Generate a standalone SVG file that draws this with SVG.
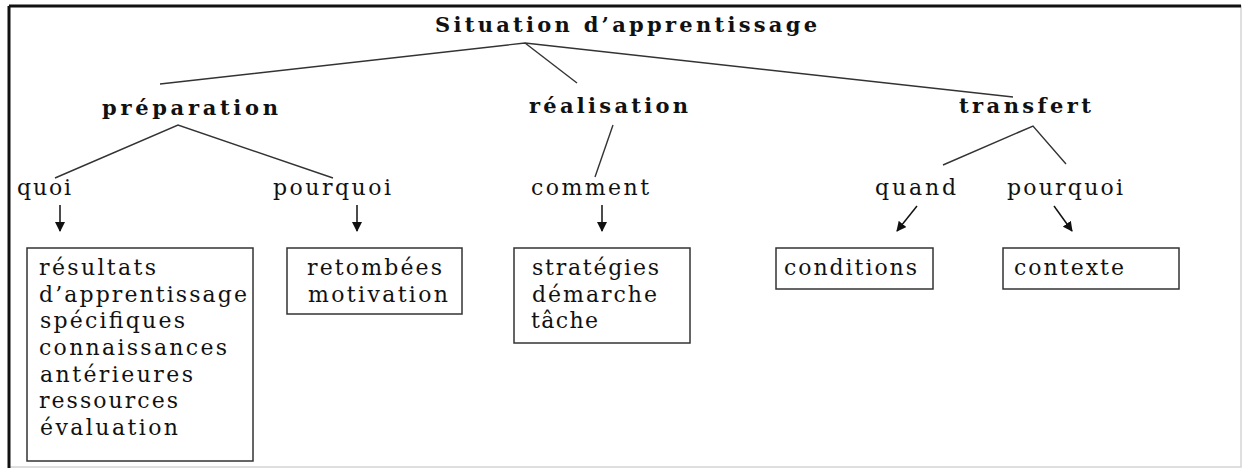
<svg xmlns="http://www.w3.org/2000/svg" width="1242" height="468" viewBox="0 0 1242 468">
<style>
.h{font-family:"DejaVu Serif","Liberation Serif",serif;font-weight:bold;font-size:21px;fill:#111}
.t{font-family:"DejaVu Serif","Liberation Serif",serif;font-size:22px;fill:#111}
.ln{stroke:#333;stroke-width:1.4;fill:none}
.ar{stroke:#111;stroke-width:1.5;fill:none}
.bx{fill:#fff;stroke:#333;stroke-width:1.5}
</style>
<defs>
<marker id="ah" viewBox="0 0 10 10" refX="9" refY="5" markerWidth="10" markerHeight="10" markerUnits="userSpaceOnUse" orient="auto">
<path d="M0,0 L10,5 L0,10 Z" fill="#111"/>
</marker>
</defs>
<rect width="1242" height="468" fill="#fff"/>
<g id="frame">
<rect x="9" y="6" width="1232" height="461" fill="none" stroke="#d4d4d4" stroke-width="1.5"/>
<line x1="9" y1="6" x2="1241" y2="6" stroke="#111" stroke-width="3"/>
<line x1="9" y1="6" x2="9" y2="468" stroke="#111" stroke-width="3"/>
</g>
<g id="connectors">
<polyline class="ln" points="160,84 525,43 1013,97"/>
<line class="ln" x1="525" y1="43" x2="577" y2="83"/>
<polyline class="ln" points="55,178 178,125 333,178"/>
<line class="ln" x1="613" y1="125" x2="595" y2="177"/>
<polyline class="ln" points="943,165 1033,126 1066,164"/>
<line class="ar" x1="60" y1="205" x2="60" y2="231" marker-end="url(#ah)"/>
<line class="ar" x1="357" y1="205" x2="357" y2="231" marker-end="url(#ah)"/>
<line class="ar" x1="602" y1="205" x2="602" y2="231" marker-end="url(#ah)"/>
<line class="ar" x1="917" y1="206" x2="897" y2="231" marker-end="url(#ah)"/>
<line class="ar" x1="1054" y1="206" x2="1072" y2="231" marker-end="url(#ah)"/>
</g>
<g id="title"><text class="h" x="435" y="32" textLength="382" lengthAdjust="spacing">Situation d’apprentissage</text></g>
<g id="preparation"><text class="h" x="102" y="115" textLength="176" lengthAdjust="spacing">préparation</text></g>
<g id="realisation"><text class="h" x="529" y="113" textLength="159" lengthAdjust="spacing">réalisation</text></g>
<g id="transfert"><text class="h" x="959" y="113" textLength="132" lengthAdjust="spacing">transfert</text></g>
<g id="quoi"><text class="t" x="17" y="195" textLength="54" lengthAdjust="spacing">quoi</text></g>
<g id="pourquoi1"><text class="t" x="273" y="195" textLength="118" lengthAdjust="spacing">pourquoi</text></g>
<g id="comment"><text class="t" x="531" y="195" textLength="118" lengthAdjust="spacing">comment</text></g>
<g id="quand"><text class="t" x="875" y="195" textLength="81" lengthAdjust="spacing">quand</text></g>
<g id="pourquoi2"><text class="t" x="1007" y="195" textLength="116" lengthAdjust="spacing">pourquoi</text></g>
<g id="box-quoi">
<rect class="bx" x="27" y="248" width="226" height="213"/>
<text class="t" x="39" y="275" textLength="117" lengthAdjust="spacing">résultats</text>
<text class="t" x="39" y="301.7" textLength="208" lengthAdjust="spacing">d’apprentissage</text>
<text class="t" x="40" y="328.3" textLength="145" lengthAdjust="spacing">spécifiques</text>
<text class="t" x="39" y="355" textLength="188" lengthAdjust="spacing">connaissances</text>
<text class="t" x="40" y="381.7" textLength="153" lengthAdjust="spacing">antérieures</text>
<text class="t" x="39" y="408.3" textLength="139" lengthAdjust="spacing">ressources</text>
<text class="t" x="40" y="435" textLength="138" lengthAdjust="spacing">évaluation</text>
</g>
<g id="box-pourquoi1">
<rect class="bx" x="287" y="248" width="175" height="66"/>
<text class="t" x="307" y="275" textLength="135" lengthAdjust="spacing">retombées</text>
<text class="t" x="308" y="301.7" textLength="140" lengthAdjust="spacing">motivation</text>
</g>
<g id="box-comment">
<rect class="bx" x="514" y="248" width="176" height="95"/>
<text class="t" x="532" y="275" textLength="127" lengthAdjust="spacing">stratégies</text>
<text class="t" x="532" y="301.7" textLength="125" lengthAdjust="spacing">démarche</text>
<text class="t" x="531" y="328.3" textLength="67" lengthAdjust="spacing">tâche</text>
</g>
<g id="box-quand">
<rect class="bx" x="776" y="248" width="157" height="41"/>
<text class="t" x="784" y="275" textLength="133" lengthAdjust="spacing">conditions</text>
</g>
<g id="box-pourquoi2">
<rect class="bx" x="1003" y="248" width="176" height="41"/>
<text class="t" x="1014" y="275" textLength="110" lengthAdjust="spacing">contexte</text>
</g>
</svg>
